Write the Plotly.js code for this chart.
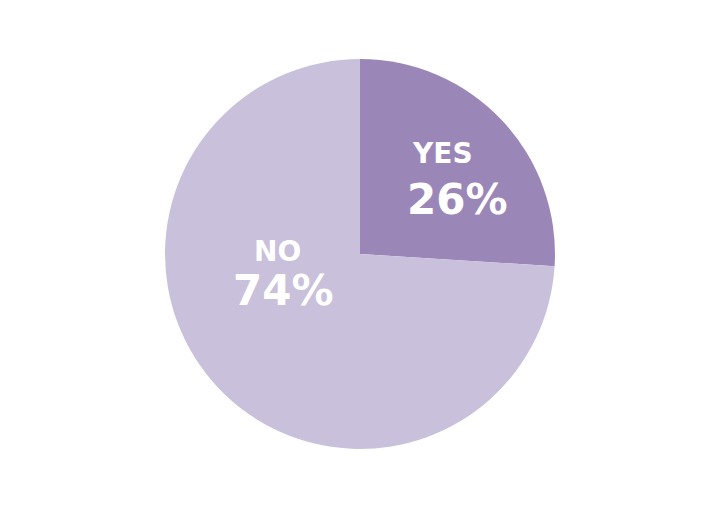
<!DOCTYPE html>
<html>
<head>
<meta charset="utf-8">
<script src="https://cdn.plot.ly/plotly-3.0.1.min.js"></script>
<style>html,body{margin:0;padding:0;background:#fff;}#chart{width:720px;height:509px;}</style>
</head>
<body>
<div id="chart"></div>
<script>
const labels = ["YES", "NO"];
const values = [26, 74];
const colors = ["#9B86B8", "#C9C0DB"];
const percentText = values.map(v => v + "%");

const W = 720, H = 509;
const font = "DejaVu Sans, Verdana, sans-serif";
// label placement (pixel positions of the text centres)
const labelPos = [
  {name: [442, 153], pct: [457, 199]},
  {name: [277, 251], pct: [283, 290]}
];
const annotations = [];
labels.forEach((lab, i) => {
  annotations.push({
    text: lab, xref: "paper", yref: "paper",
    x: labelPos[i].name[0] / W, y: 1 - labelPos[i].name[1] / H,
    xanchor: "center", yanchor: "middle", showarrow: false,
    font: {family: font, size: 28, color: "#ffffff", weight: "bold"}
  });
  annotations.push({
    text: percentText[i], xref: "paper", yref: "paper",
    x: labelPos[i].pct[0] / W, y: 1 - labelPos[i].pct[1] / H,
    xanchor: "center", yanchor: "middle", showarrow: false,
    font: {family: font, size: 42, color: "#ffffff", weight: "bold"}
  });
});

Plotly.newPlot("chart", [{
  type: "pie",
  labels: labels,
  values: values,
  sort: false,
  direction: "clockwise",
  rotation: 0,
  marker: {colors: colors, line: {width: 0}},
  textinfo: "none",
  hoverinfo: "none",
  domain: {x: [0.2292, 0.7708], y: [0.1179, 0.8841]}
}], {
  width: W,
  height: H,
  margin: {l: 0, r: 0, t: 0, b: 0},
  showlegend: false,
  paper_bgcolor: "#ffffff",
  annotations: annotations
}, {displayModeBar: false, staticPlot: true});
</script>
</body>
</html>
